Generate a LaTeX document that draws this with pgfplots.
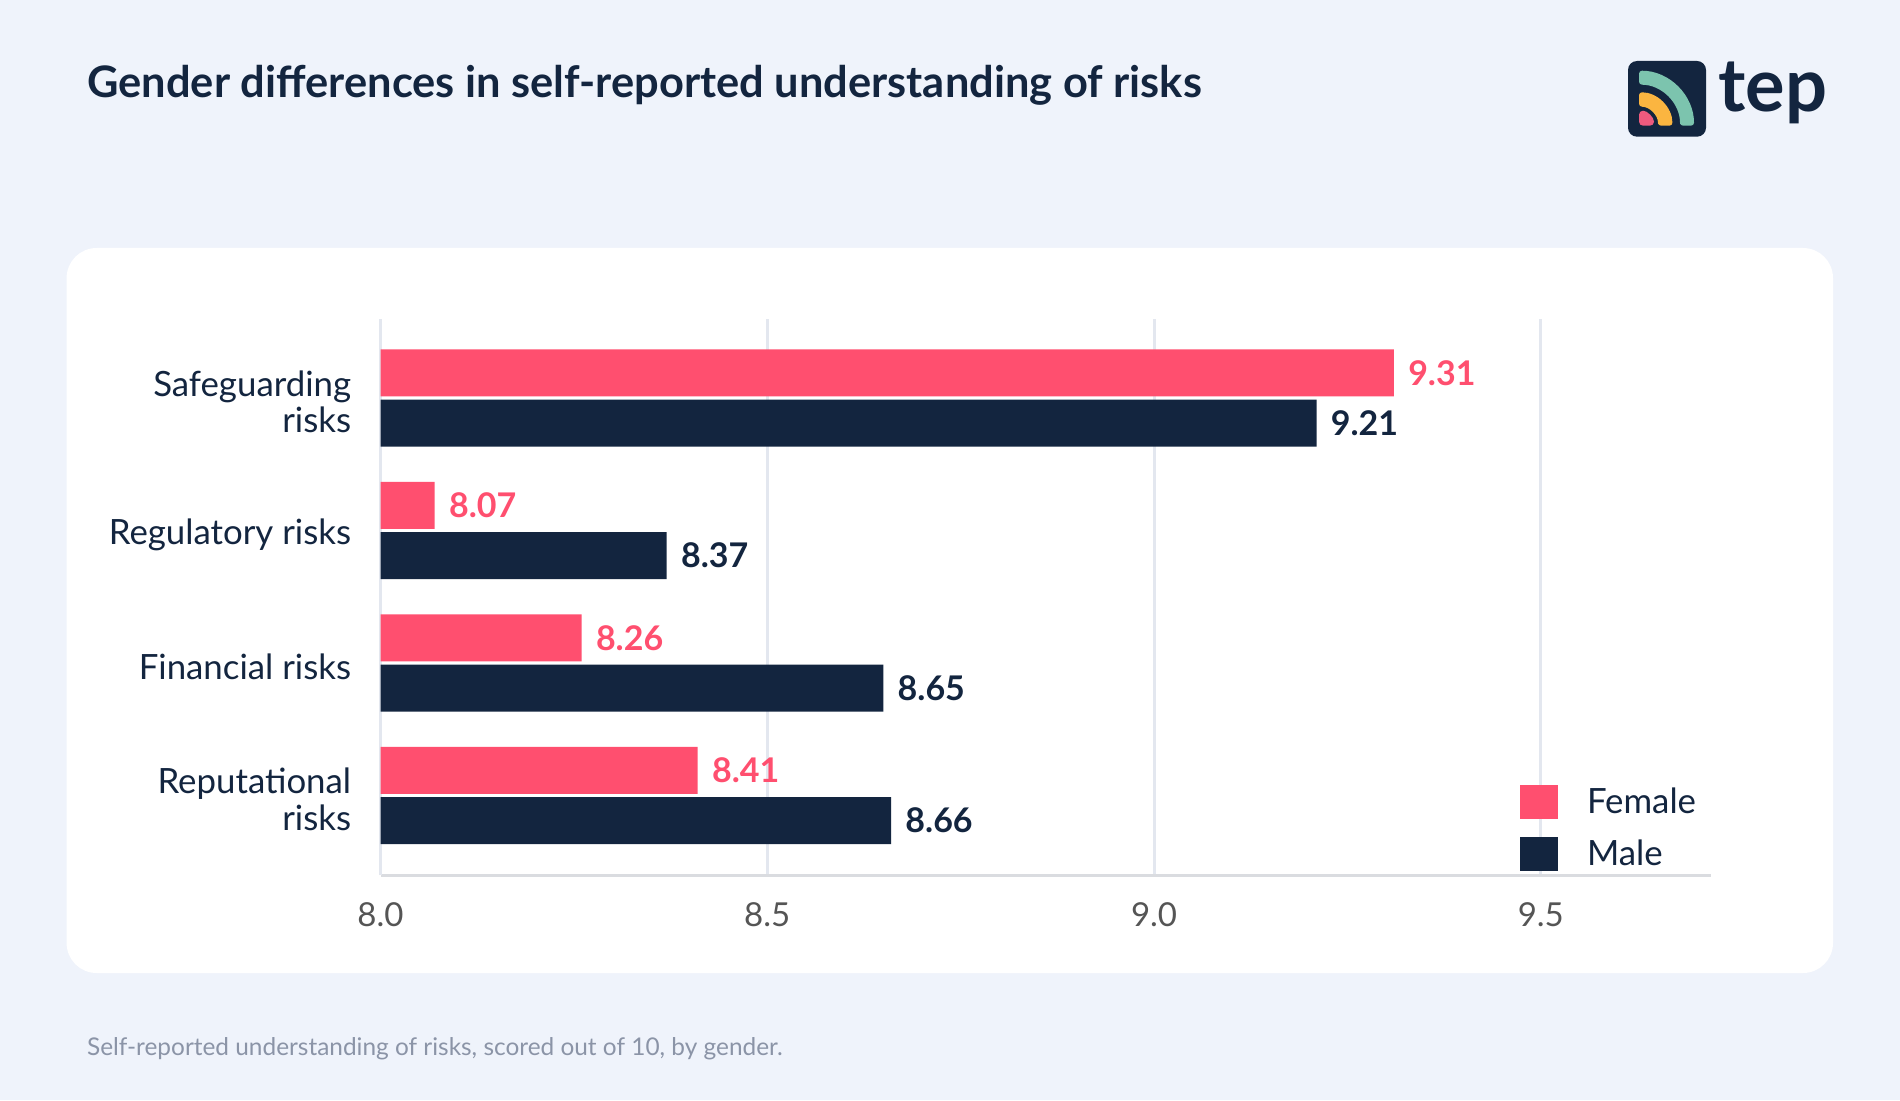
\documentclass[border=0pt]{standalone}
\usepackage{pgfplots}
\pgfplotsset{compat=1.18}
\usepackage{fontspec}
\setmainfont{Lato}
\definecolor{bg}{HTML}{EFF3FB}
\definecolor{navy}{HTML}{13253F}
\definecolor{pinkc}{HTML}{FF4F6F}
\definecolor{gridc}{HTML}{E3E7EF}
\definecolor{axisc}{HTML}{DADCE0}
\definecolor{tickc}{HTML}{555555}
\definecolor{footc}{HTML}{8B94A7}
\definecolor{logoteal}{HTML}{7CC4AE}
\definecolor{logoyellow}{HTML}{FBB540}
\definecolor{logopink}{HTML}{EE5A7E}
\pgfplotsset{/pgf/number format/assume math mode=true,
  sqlegend/.style={legend image code/.code={\fill[##1] (0pt,-8.5pt) rectangle (19pt,8.5pt);}}}
\pgfplotstableread{
val pos
9.31 3
8.07 2
8.26 1
8.41 0
}\female
\pgfplotstableread{
val pos
9.21 3
8.37 2
8.65 1
8.66 0
}\male
\begin{document}
\begin{tikzpicture}
\fill[bg] (0,0) rectangle (950pt,550pt);
\fill[white, rounded corners=15pt] (33.3pt,63.5pt) rectangle (916.5pt,426pt);
\node[anchor=base west, inner sep=0pt, text=navy, font=\fontsize{21.7}{26}\selectfont\bfseries] at (43.5pt,501.35pt) {Gender differences in self-reported understanding of risks};
\node[anchor=base west, inner sep=0pt, text=footc, font=\fontsize{12.2}{15}\selectfont] at (43.35pt,22.15pt) {Self-reported understanding of risks, scored out of 10, by gender.};
% logo
\fill[navy, rounded corners=4.5pt] (814pt,481.65pt) rectangle (853pt,519.5pt);
\fill[logopink, rounded corners=2pt] (819.5pt,487.15pt) -- (827pt,487.15pt) arc (0:90:7.5pt) -- cycle;
\fill[logoyellow, rounded corners=1.5pt] (829pt,487.15pt) -- (836.2pt,487.15pt) arc (0:90:16.7pt) -- (819.5pt,496.65pt) arc (90:0:9.5pt) -- cycle;
\fill[logoteal, rounded corners=1.5pt] (840pt,487.15pt) -- (847pt,487.15pt) arc (0:90:27.5pt) -- (819.5pt,507.65pt) arc (90:0:20.5pt) -- cycle;
\node[anchor=base west, inner sep=0pt, text=navy, font=\fontsize{37}{37}\selectfont\bfseries] at (859pt,494.15pt) {tep};
\begin{axis}[
  at={(190.25pt,112.5pt)}, anchor=south west,
  scale only axis, width=665.25pt, height=278.25pt,
  xbar, bar width=0.354,
  xmin=8, xmax=9.72, ymin=-0.6, ymax=3.6,
  xtick={8,8.5,9,9.5},
  xticklabel={\pgfmathprintnumber[fixed,fixed zerofill,precision=1]{\tick}},
  xticklabel style={font=\fontsize{16.5}{19}\selectfont, text=tickc, inner sep=0pt, yshift=-13.5pt},
  ytick={0,1,2,3},
  yticklabels={{Reputational\\risks},{Financial risks},{Regulatory risks},{Safeguarding\\risks}},
  yticklabel style={align=right, font=\fontsize{17.4}{18.3}\selectfont, text=navy, inner sep=0pt, xshift=-14.5pt, yshift=-2pt},
  major tick length=0pt,
  xmajorgrids, grid style={gridc, line width=1.5pt},
  axis lines*=left,
  axis line style={-},
  x axis line style={draw=axisc, line width=1.5pt},
  y axis line style={draw=gridc, line width=1pt},
  nodes near coords={\pgfmathprintnumber[fixed,fixed zerofill,precision=2]{\pgfplotspointmeta}},
  nodes near coords align=horizontal,
  every node near coord/.append style={anchor=west, inner sep=0pt, xshift=7pt, font=\fontsize{17}{20}\selectfont\bfseries},
  legend style={at={(0.85644,0.00773)}, anchor=south west, draw=none, fill=none, inner sep=0pt, outer sep=0pt, row sep=9pt, font=\fontsize{17.4}{20}\selectfont, text=navy, nodes={inner sep=0pt}, /tikz/every odd column/.append style={column sep=14.5pt}},
  legend cell align=left,
  clip=true,
]
\addplot[fill=pinkc, draw=none, bar shift=0.19, sqlegend, every node near coord/.append style={text=pinkc}] table[x=val, y=pos] {\female};
\addlegendentry{Female}
\addplot[fill=navy, draw=none, bar shift=-0.19, sqlegend, every node near coord/.append style={text=navy}] table[x=val, y=pos] {\male};
\addlegendentry{Male}
\end{axis}
\end{tikzpicture}
\end{document}
